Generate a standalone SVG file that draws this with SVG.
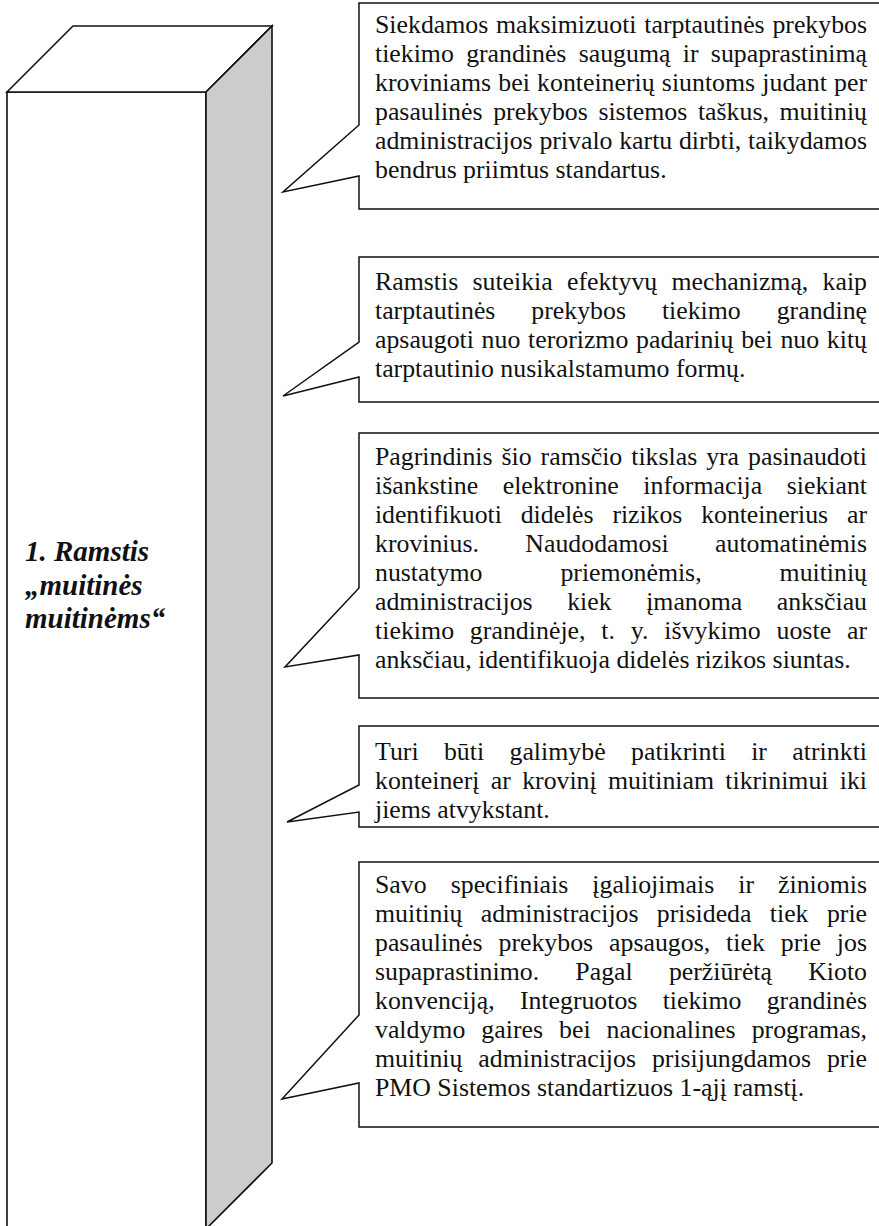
<svg xmlns="http://www.w3.org/2000/svg" width="879" height="1226" viewBox="0 0 879 1226">
  <style>
    .edge { fill: none; stroke: #111; stroke-width: 1.6; stroke-linejoin: miter; }
    .face { fill: #ffffff; stroke: #111; stroke-width: 1.6; }
    .side { fill: #cccccc; stroke: #111; stroke-width: 1.6; }
    .callout { fill: #ffffff; stroke: #111; stroke-width: 1.5; stroke-linejoin: miter; }
    .body { font-family: "Liberation Serif", "Times New Roman", serif; font-size: 25.8px; fill: #111; }
    .title { font-family: "Liberation Serif", "Times New Roman", serif; font-size: 29px; font-weight: bold; font-style: italic; fill: #111; }
  </style>

  <rect width="879" height="1226" fill="#ffffff"/>

  <!-- Pillar drawn as a box in oblique projection -->
  <g id="pillar">
    <rect class="face" x="7" y="92" width="199" height="1150"/>
    <polygon class="face" points="7,92 73,26 272,26 206,92"/>
    <polygon class="side" points="206,92 272,26 272,1163 206,1229"/>
    <text class="title" x="25" y="561">1. Ramstis</text>
    <text class="title" x="25" y="595">„muitinės</text>
    <text class="title" x="25" y="628">muitinėms“</text>
  </g>

  <!-- Callout 1 -->
  <g id="callout-1">
    <path class="callout" d="M359,3 H890 V209 H359 V176 L283,192 L359,125 Z"/>
    <text class="body" x="375" y="33" word-spacing="1.3" textLength="492" lengthAdjust="spacing">Siekdamos maksimizuoti tarptautinės prekybos</text>
    <text class="body" x="375" y="62" word-spacing="5.9" textLength="492" lengthAdjust="spacing">tiekimo grandinės saugumą ir supaprastinimą</text>
    <text class="body" x="375" y="91" word-spacing="0.8" textLength="492" lengthAdjust="spacing">kroviniams bei konteinerių siuntoms judant per</text>
    <text class="body" x="375" y="120" word-spacing="4.2" textLength="492" lengthAdjust="spacing">pasaulinės prekybos sistemos taškus, muitinių</text>
    <text class="body" x="375" y="149" word-spacing="0.3" textLength="492" lengthAdjust="spacing">administracijos privalo kartu dirbti, taikydamos</text>
    <text class="body" x="375" y="178">bendrus priimtus standartus.</text>
  </g>

  <!-- Callout 2 -->
  <g id="callout-2">
    <path class="callout" d="M359,257 H890 V402 H359 V377 L283,396 L359,342 Z"/>
    <text class="body" x="375" y="290" word-spacing="7.8" textLength="492" lengthAdjust="spacing">Ramstis suteikia efektyvų mechanizmą, kaip</text>
    <text class="body" x="375" y="319" word-spacing="29.5" textLength="492" lengthAdjust="spacing">tarptautinės prekybos tiekimo grandinę</text>
    <text class="body" x="375" y="348" word-spacing="1.3" textLength="492" lengthAdjust="spacing">apsaugoti nuo terorizmo padarinių bei nuo kitų</text>
    <text class="body" x="375" y="377">tarptautinio nusikalstamumo formų.</text>
  </g>

  <!-- Callout 3 -->
  <g id="callout-3">
    <path class="callout" d="M359,433 H890 V698 H359 V655 L285,667 L359,588 Z"/>
    <text class="body" x="375" y="465" word-spacing="2.5" textLength="492" lengthAdjust="spacing">Pagrindinis šio ramsčio tikslas yra pasinaudoti</text>
    <text class="body" x="375" y="494" word-spacing="18.1" textLength="492" lengthAdjust="spacing">išankstine elektronine informacija siekiant</text>
    <text class="body" x="375" y="523" word-spacing="12.6" textLength="492" lengthAdjust="spacing">identifikuoti didelės rizikos konteinerius ar</text>
    <text class="body" x="375" y="552" word-spacing="40" textLength="492" lengthAdjust="spacing">krovinius. Naudodamosi automatinėmis</text>
    <text class="body" x="375" y="581" word-spacing="71.5" textLength="492" lengthAdjust="spacing">nustatymo priemonėmis, muitinių</text>
    <text class="body" x="375" y="610" word-spacing="28.1" textLength="492" lengthAdjust="spacing">administracijos kiek įmanoma anksčiau</text>
    <text class="body" x="375" y="639" word-spacing="9.3" textLength="492" lengthAdjust="spacing">tiekimo grandinėje, t. y. išvykimo uoste ar</text>
    <text class="body" x="375" y="668">anksčiau, identifikuoja didelės rizikos siuntas.</text>
  </g>

  <!-- Callout 4 -->
  <g id="callout-4">
    <path class="callout" d="M359,726 H890 V827 H359 V812 L287,822 L359,785 Z"/>
    <text class="body" x="375" y="760" word-spacing="18.8" textLength="492" lengthAdjust="spacing">Turi būti galimybė patikrinti ir atrinkti</text>
    <text class="body" x="375" y="789" word-spacing="4.9" textLength="492" lengthAdjust="spacing">konteinerį ar krovinį muitiniam tikrinimui iki</text>
    <text class="body" x="375" y="818">jiems atvykstant.</text>
  </g>

  <!-- Callout 5 -->
  <g id="callout-5">
    <path class="callout" d="M359,862 H890 V1127 H359 V1083 L282,1099 L359,1015 Z"/>
    <text class="body" x="375" y="893" word-spacing="17.6" textLength="492" lengthAdjust="spacing">Savo specifiniais įgaliojimais ir žiniomis</text>
    <text class="body" x="375" y="922" word-spacing="11.9" textLength="492" lengthAdjust="spacing">muitinių administracijos prisideda tiek prie</text>
    <text class="body" x="375" y="951" word-spacing="9.5" textLength="492" lengthAdjust="spacing">pasaulinės prekybos apsaugos, tiek prie jos</text>
    <text class="body" x="375" y="980" word-spacing="29.8" textLength="492" lengthAdjust="spacing">supaprastinimo. Pagal peržiūrėtą Kioto</text>
    <text class="body" x="375" y="1009" word-spacing="18.8" textLength="492" lengthAdjust="spacing">konvenciją, Integruotos tiekimo grandinės</text>
    <text class="body" x="375" y="1038" word-spacing="9.6" textLength="492" lengthAdjust="spacing">valdymo gaires bei nacionalines programas,</text>
    <text class="body" x="375" y="1067" word-spacing="9.5" textLength="492" lengthAdjust="spacing">muitinių administracijos prisijungdamos prie</text>
    <text class="body" x="375" y="1096">PMO Sistemos standartizuos 1-ąjį ramstį.</text>
  </g>
</svg>
